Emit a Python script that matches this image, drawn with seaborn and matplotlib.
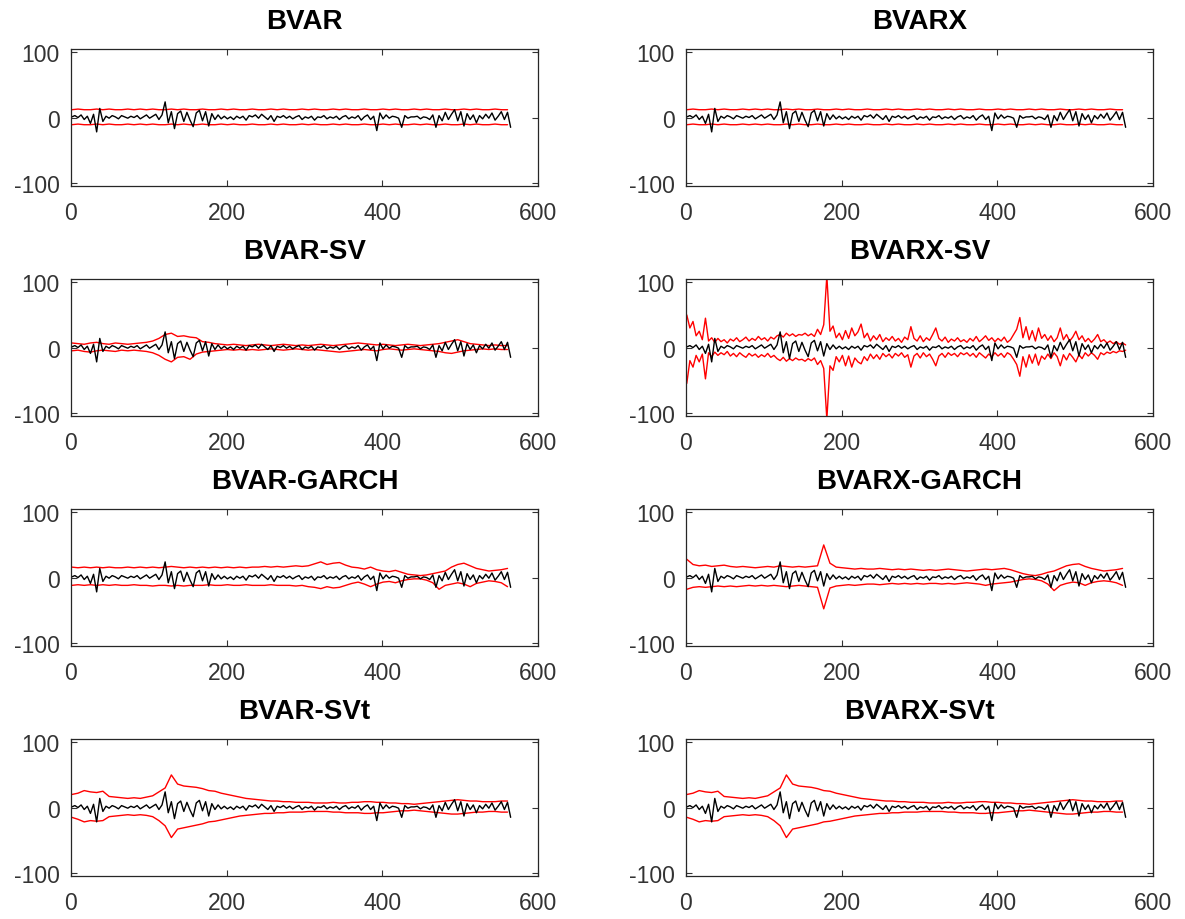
import numpy as np
import matplotlib
matplotlib.use("Agg")
import matplotlib.pyplot as plt
import seaborn as sns

sns.set_theme(style="white")
plt.rcParams['font.family'] = ['Liberation Sans', 'DejaVu Sans']
plt.rcParams['axes.unicode_minus'] = False

# observed series, every 4th observation (t = 1, 5, 9, ...)
obs = [1, 3, 0, 4, -3, 2, -9, 5, -22, 14,
       -6, 2, -1, 3, 1, -2, 3, 1, -1, 2,
       0, 3, -2, 1, 4, -1, 2, 5, -3, 4,
       24, -8, 9, -17, 6, 10, -6, 8, -4, -14,
       7, 11, -5, 9, -13, 6, -3, 4, -2, 2,
       -2, 1, -3, 2, -1, 2, -4, 3, 1, 4,
       -1, 5, 1, -3, 3, -6, 2, 0, 3, -1,
       2, -2, 1, 3, -3, 1, -1, 2, -4, 1,
       0, 3, -2, 1, -1, 2, -3, 1, 3, -2,
       1, -1, 3, -4, 1, 4, -3, 2, -20, 7,
       -2, 4, -1, 2, 1, -1, -15, 3, -1, 1,
       1, 2, -2, 1, 0, -3, 4, -15, 3, -5,
       8, -3, 5, 12, -5, 9, -13, 6, -3, 4,
       -8, 3, -2, 5, -1, 7, -4, 2, 9, -3,
       8, -15]

# interval bounds, every 8th observation
bvar_hi = [12, 13, 12, 12, 13, 12, 13, 12, 12, 13, 12, 13, 12, 13, 12, 12, 13, 12, 13, 12,
           12, 13, 12, 12, 13, 12, 13, 12, 12, 13, 12, 12, 13, 12, 13, 12, 12, 13, 12, 13,
           12, 12, 13, 12, 13, 12, 12, 13, 12, 12, 13, 12, 13, 12, 12, 13, 12, 13, 12, 12,
           13, 12, 12, 13, 12, 13, 12, 12, 13, 12, 12]
bvar_lo = [-11, -10, -11, -11, -10, -11, -10, -11, -11, -10, -11, -10, -11, -10, -11, -11, -10, -11, -10, -11,
           -11, -10, -11, -11, -10, -11, -10, -11, -11, -10, -11, -11, -10, -11, -10, -11, -11, -10, -11, -10,
           -11, -11, -10, -11, -10, -11, -11, -10, -11, -11, -10, -11, -10, -11, -11, -10, -11, -10, -11, -11,
           -10, -11, -11, -10, -11, -10, -11, -11, -10, -11, -11]

sv_hi = [7, 6, 5, 7, 8, 6, 5, 7, 6, 5, 6, 7, 8, 10, 14, 20, 22, 17, 18, 16,
         15, 9, 8, 6, 5, 4, 5, 4, 3, 4, 5, 4, 3, 4, 5, 4, 3, 4, 3, 4,
         5, 4, 3, 4, 5, 6, 7, 6, 5, 4, 5, 4, 3, 4, 5, 4, 3, 4, 5, 6,
         8, 10, 12, 9, 6, 5, 4, 3, 4, 3, 3]
sv_lo = [-5, -4, -6, -7, -5, -4, -5, -6, -4, -5, -4, -5, -6, -8, -12, -18, -22, -15, -14, -18,
         -10, -7, -6, -5, -4, -3, -4, -3, -4, -3, -4, -3, -2, -3, -4, -3, -2, -3, -4, -3,
         -4, -5, -6, -7, -6, -5, -4, -3, -4, -5, -3, -2, -3, -4, -3, -2, -3, -4, -5, -6,
         -8, -9, -7, -5, -4, -3, -2, -3, -2, -3, -3]

garch_hi = [16, 15, 16, 15, 16, 15, 16, 15, 15, 16, 15, 16, 15, 16, 15, 16, 17, 16, 15, 16,
            15, 16, 15, 16, 15, 16, 15, 16, 15, 16, 16, 17, 16, 17, 16, 17, 18, 17, 18, 21,
            24, 20, 22, 23, 19, 16, 15, 13, 16, 12, 10, 9, 11, 8, 5, 4, 3, 4, 6, 8,
            10, 16, 20, 22, 18, 14, 12, 10, 11, 12, 14]
garch_lo = [-12, -11, -12, -11, -12, -11, -12, -11, -12, -12, -11, -12, -12, -13, -12, -12, -13, -12, -13, -12,
            -12, -12, -11, -12, -12, -11, -12, -12, -11, -12, -12, -12, -11, -12, -12, -12, -13, -12, -14, -15,
            -17, -14, -16, -15, -12, -9, -7, -10, -14, -10, -7, -6, -8, -5, -3, -2, -2, -4, -8, -18,
            -12, -10, -8, -10, -14, -9, -7, -5, -6, -8, -14]

xgarch_hi = [28, 20, 18, 19, 17, 18, 19, 17, 16, 17, 16, 15, 16, 17, 16, 18, 17, 16, 17, 16,
             17, 18, 50, 22, 16, 15, 14, 13, 14, 13, 13, 14, 13, 12, 13, 12, 13, 12, 11, 12,
             11, 12, 13, 12, 11, 10, 11, 12, 13, 12, 13, 14, 12, 9, 6, 4, 3, 5, 8, 10,
             14, 18, 20, 21, 17, 14, 12, 10, 11, 12, 14]
xgarch_lo = [-18, -15, -14, -15, -14, -13, -14, -13, -14, -13, -12, -13, -12, -13, -12, -13, -14, -13, -12, -13,
             -14, -15, -48, -16, -13, -12, -11, -12, -11, -10, -10, -11, -10, -9, -10, -9, -10, -9, -10, -9,
             -9, -10, -9, -10, -9, -8, -9, -10, -12, -10, -9, -8, -7, -5, -3, -2, -3, -5, -10, -20,
             -12, -9, -7, -8, -12, -8, -6, -5, -6, -8, -12]

svt_hi = [20, 22, 26, 24, 23, 25, 17, 16, 15, 14, 15, 14, 16, 18, 24, 30, 50, 36, 33, 32,
          31, 29, 26, 25, 22, 20, 18, 16, 14, 13, 12, 11, 10, 10, 9, 9, 8, 8, 8, 7,
          7, 7, 8, 7, 7, 8, 8, 9, 9, 8, 8, 7, 7, 6, 6, 5, 6, 7, 8, 9,
          10, 11, 12, 11, 10, 10, 9, 9, 9, 10, 10]
svt_lo = [-15, -18, -22, -20, -21, -20, -14, -13, -12, -11, -12, -11, -12, -14, -20, -28, -46, -33, -31, -29,
          -27, -25, -22, -21, -19, -17, -15, -13, -12, -11, -10, -9, -9, -8, -8, -7, -7, -7, -6, -6,
          -6, -6, -7, -7, -8, -8, -8, -9, -9, -8, -8, -7, -6, -5, -5, -4, -5, -6, -7, -8,
          -9, -10, -10, -9, -8, -7, -7, -6, -6, -7, -7]

# BVARX-SV bounds, every 4th observation
xsv_hi = [50, 30, 40, 18, 25, 12, 45, 10, 15, 8, 14, 9, 12, 7, 13, 10, 15, 9, 12, 16,
          10, 14, 11, 17, 12, 15, 10, 16, 13, 18, 20, 16, 22, 18, 21, 17, 20, 19, 22, 18,
          21, 17, 28, 20, 35, 110, 25, 33, 15, 22, 12, 26, 14, 30, 18, 24, 36, 15, 22, 10,
          18, 12, 20, 9, 15, 11, 17, 10, 14, 8, 16, 12, 32, 14, 10, 18, 9, 15, 11, 20,
          30, 14, 10, 16, 8, 13, 10, 15, 9, 12, 8, 14, 10, 17, 9, 13, 18, 11, 15, 9,
          14, 10, 16, 8, 12, 20, 28, 46, 15, 32, 12, 26, 10, 30, 14, 20, 11, 18, 9, 15,
          30, 12, 20, 10, 16, 25, 12, 18, 9, 14, 8, 13, 20, 9, 12, 7, 10, 6, 9, 5,
          7, 4]
xsv_lo = [-55, -20, -30, -12, -22, -10, -48, -8, -14, -7, -12, -8, -11, -6, -13, -9, -14, -8, -12, -15,
          -9, -13, -10, -15, -11, -14, -9, -15, -12, -17, -20, -15, -21, -17, -20, -16, -19, -18, -21, -17,
          -20, -16, -26, -20, -32, -110, -28, -35, -14, -22, -12, -28, -13, -30, -16, -22, -25, -14, -20, -10,
          -17, -11, -18, -9, -14, -10, -16, -9, -13, -8, -15, -11, -30, -13, -9, -16, -8, -14, -10, -18,
          -28, -13, -9, -15, -8, -12, -9, -14, -8, -11, -8, -13, -9, -15, -8, -12, -16, -10, -14, -8,
          -13, -9, -15, -8, -11, -18, -26, -44, -14, -30, -11, -24, -10, -27, -13, -18, -10, -17, -8, -14,
          -28, -11, -19, -9, -15, -22, -11, -17, -8, -13, -8, -12, -18, -8, -11, -7, -9, -6, -8, -5,
          -6, -4]

titles = ['BVAR', 'BVARX', 'BVAR-SV', 'BVARX-SV',
          'BVAR-GARCH', 'BVARX-GARCH', 'BVAR-SVt', 'BVARX-SVt']
bands = [(bvar_lo, bvar_hi, 8), (bvar_lo, bvar_hi, 8),
         (sv_lo, sv_hi, 8), (xsv_lo, xsv_hi, 4),
         (garch_lo, garch_hi, 8), (xgarch_lo, xgarch_hi, 8),
         (svt_lo, svt_hi, 8), (svt_lo, svt_hi, 8)]

grey = '#333333'
fig = plt.figure(figsize=(11.85, 9.2), dpi=100)
lefts = [0.0599, 0.5789]
bottoms = [0.7967, 0.5467, 0.2967, 0.0467]

t_obs = 1 + 4 * np.arange(len(obs))

for k, (name, (lo, hi, step)) in enumerate(zip(titles, bands)):
    ax = fig.add_axes([lefts[k % 2], bottoms[k // 2], 0.394, 0.1489])
    t_band = 1 + step * np.arange(len(hi))
    sns.lineplot(x=t_band, y=hi, ax=ax, color='red', linewidth=1.0, estimator=None, sort=False)
    sns.lineplot(x=t_band, y=lo, ax=ax, color='red', linewidth=1.0, estimator=None, sort=False)
    sns.lineplot(x=t_obs, y=obs, ax=ax, color='black', linewidth=1.0, estimator=None, sort=False)
    ax.set_xlim(0, 600)
    ax.set_ylim(-105, 105)
    ax.set_xticks([0, 200, 400, 600])
    ax.set_yticks([-100, 0, 100])
    ax.set_xlabel('')
    ax.set_ylabel('')
    ax.set_title(name, fontsize=20, fontweight='bold', color='black', pad=15)
    ax.tick_params(direction='in', length=4, width=0.8, colors=grey, labelsize=16.5,
                   top=True, right=True, bottom=True, left=True, pad=8)
    ax.tick_params(axis='x', pad=11)
    for s in ax.spines.values():
        s.set_visible(True)
        s.set_color('#262626')
        s.set_linewidth(0.9)

fig.savefig('out.png', dpi=100)
